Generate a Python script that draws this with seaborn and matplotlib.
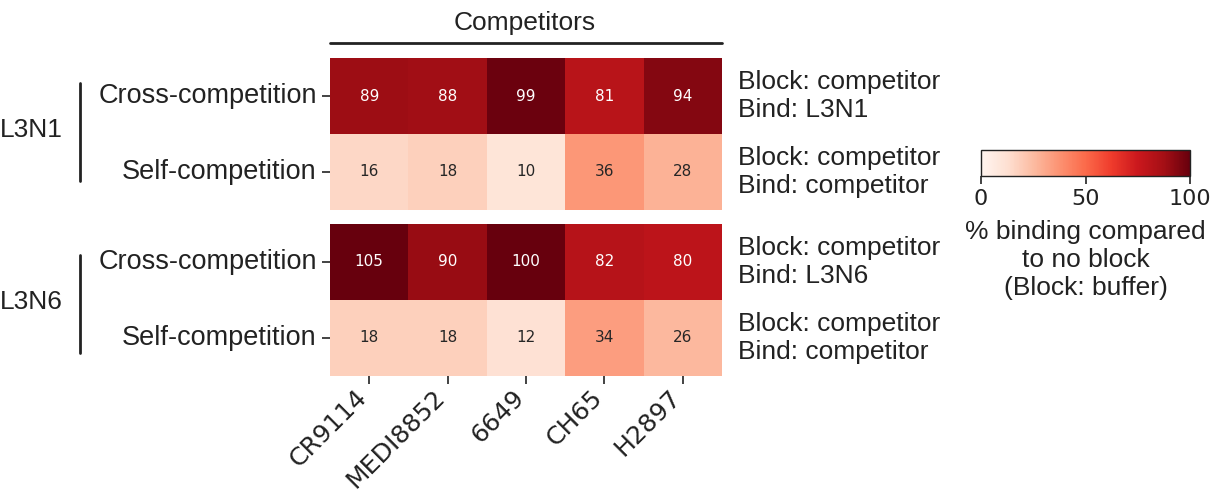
import matplotlib
matplotlib.use("Agg")
import matplotlib.pyplot as plt
from matplotlib.lines import Line2D
from matplotlib.transforms import ScaledTranslation
import numpy as np
import pandas as pd
import seaborn as sns

# ---- data ----
competitors = ["CR9114", "MEDI8852", "6649", "CH65", "H2897"]
row_labels = ["Cross-competition", "Self-competition"]
groups = ["L3N1", "L3N6"]
l3n1_cross = [89, 88, 99, 81, 94]
l3n1_self = [16, 18, 10, 36, 28]
l3n6_cross = [105, 90, 100, 82, 80]
l3n6_self = [18, 18, 12, 34, 26]
right_labels = [
    ["Block: competitor\nBind: L3N1", "Block: competitor\nBind: competitor"],
    ["Block: competitor\nBind: L3N6", "Block: competitor\nBind: competitor"],
]
cbar_ticks = [0, 50, 100]
cbar_label = "% binding compared\nto no block\n(Block: buffer)"

sns.set_theme(style="ticks")
TXT = "#222222"
LAB_FONT = ["Liberation Sans", "DejaVu Sans"]
plt.rcParams["font.family"] = ["DejaVu Sans"]
plt.rcParams["text.color"] = TXT
plt.rcParams["axes.labelcolor"] = TXT
plt.rcParams["xtick.color"] = TXT
plt.rcParams["ytick.color"] = TXT

W, H = 1220, 491
fig = plt.figure(figsize=(W / 100, H / 100), dpi=100)


def px_axes(x0, y0, x1, y1):
    return fig.add_axes([x0 / W, 1 - y1 / H, (x1 - x0) / W, (y1 - y0) / H])


ax1 = px_axes(330, 58, 722, 210)
ax2 = px_axes(330, 224, 722, 376)
cax = px_axes(981, 150, 1190, 176)

frames = [
    pd.DataFrame([l3n1_cross, l3n1_self], index=row_labels, columns=competitors),
    pd.DataFrame([l3n6_cross, l3n6_self], index=row_labels, columns=competitors),
]

for i, (ax, df) in enumerate(zip([ax1, ax2], frames)):
    sns.heatmap(
        df, ax=ax, cmap="Reds", vmin=0, vmax=100, annot=True, fmt="d",
        annot_kws={"fontsize": 11},
        cbar=(i == 0), cbar_ax=cax if i == 0 else None,
        cbar_kws={"orientation": "horizontal", "ticks": cbar_ticks} if i == 0 else None,
    )
    ax.tick_params(axis="y", length=6, width=1.2, labelsize=19.5, rotation=0)
    for t in ax.get_yticklabels():
        t.set_fontfamily(LAB_FONT)
    if i == 0:
        ax.tick_params(axis="x", length=0, labelbottom=False)
    else:
        ax.tick_params(axis="x", length=6, width=1.2, labelsize=18, pad=4)
        shift = ScaledTranslation(-6 / 100, -4 / 100, fig.dpi_scale_trans)
        for t in ax.get_xticklabels():
            t.set_rotation(45)
            t.set_ha("right")
            t.set_va("center")
            t.set_rotation_mode("anchor")
            t.set_transform(t.get_transform() + shift)
    ax.set_xlabel("")
    ax.set_ylabel("")
    # right-hand condition labels
    for r, lab in enumerate(right_labels[i]):
        ax.text(1.04, 1 - (r + 0.5) / 2, lab, transform=ax.transAxes,
                ha="left", va="center", fontsize=19, family=LAB_FONT,
                linespacing=1.2)

# colorbar
cbar = ax1.collections[0].colorbar
cbar.outline.set_visible(True)
cbar.outline.set_edgecolor(TXT)
cbar.outline.set_linewidth(1.0)
cax.tick_params(labelsize=16, length=6, width=1.2)
cax.set_xlabel(cbar_label, fontsize=19, family=LAB_FONT, linespacing=1.2,
               labelpad=8)

# title and bracket for competitors
fig.text(525 / W, 1 - 23 / H, "Competitors", ha="center", va="center",
         fontsize=19, family=LAB_FONT)
fig.add_artist(Line2D([330 / W, 722 / W], [1 - 43 / H, 1 - 43 / H],
                      color=TXT, lw=2.0, transform=fig.transFigure))

# group labels with vertical brackets
for name, (y0, y1) in zip(groups, [(83, 181), (255, 353)]):
    fig.add_artist(Line2D([80 / W, 80 / W], [1 - y0 / H, 1 - y1 / H],
                          color=TXT, lw=2.0, transform=fig.transFigure))
    fig.text(63 / W, 1 - ((y0 + y1) / 2 - 2) / H, name, ha="right",
             va="center", fontsize=19, family=LAB_FONT)

fig.savefig("out.png", dpi=100)
